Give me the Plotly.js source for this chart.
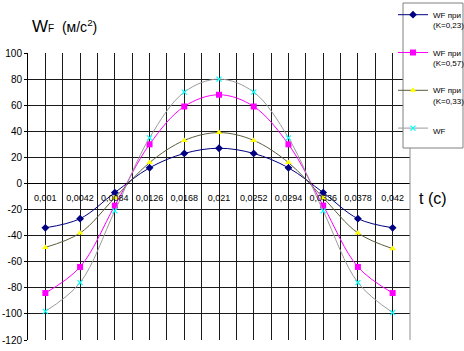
<!DOCTYPE html>
<html>
<head>
<meta charset="utf-8">
<script src="https://cdn.plot.ly/plotly-3.0.1.min.js"></script>
<style>html,body{margin:0;padding:0;background:#fff;}#chart{width:464px;height:351px;}</style>
</head>
<body>
<div id="chart"></div>
<script>
const categories = ['0,001','0,0042','0,0084','0,0126','0,0168','0,021','0,0252','0,0294','0,0336','0,0378','0,042'];
const seriesNames = ['WF при<br>(K=0,23)', 'WF при<br>(K=0,57)', 'WF при<br>(K=0,33)', 'WF'];
const wfK023 = [-34, -27, -7, 12, 23, 27, 23, 12, -7, -27, -34];
const wfK057 = [-84, -64, -17, 30, 59, 68, 59, 30, -17, -64, -84];
const wfK033 = [-49, -38, -11, 16, 33, 39, 33, 16, -11, -38, -50];
const wf     = [-98, -76, -21, 35, 70, 80, 70, 35, -21, -76, -99];
const yTicks = [-120, -100, -80, -60, -40, -20, 0, 20, 40, 60, 80, 100];

const xIdx = categories.map((c, i) => i);
const FONT = 'Liberation Sans, Arial, sans-serif';

function tr(name, y, lineColor, sym, size, mColor, mLine, grp) {
  return {
    type: 'scatter', mode: 'lines+markers', name: name, x: xIdx, y: y,
    legendgroup: grp,
    line: {color: lineColor, width: 1, shape: 'spline', smoothing: 1},
    marker: {symbol: sym, size: size, color: mColor, line: {color: mLine, width: sym.indexOf('open') >= 0 ? 1.2 : 0}},
    cliponaxis: false
  };
}

const data = [
  tr(seriesNames[0], wfK023, '#000080', 'diamond', 6, '#000080', '#000080', 'a'),
  tr(seriesNames[1], wfK057, '#FF00FF', 'square', 6, '#FF00FF', '#FF00FF', 'b'),
  tr(seriesNames[2], wfK033, '#5c5c3d', 'triangle-up', 6, '#FFFF00', '#FFFF00', 'c'),
  tr(seriesNames[3], wf, '#9a9a9a', 'x-thin-open', 5, '#00FFFF', '#00FFFF', 'd')
];

const grid = '#1a1a1a';
const layout = {
  width: 464, height: 351,
  margin: {l: 28, r: 54, t: 53, b: 11, autoexpand: false},
  paper_bgcolor: '#fff', plot_bgcolor: '#fff',
  font: {family: FONT, color: '#000'},
  showlegend: true,
  title: {
    text: '<span style="font-size:17px">W</span><span style="font-size:10px">F</span>  (м/с<sup>2</sup>)',
    x: 32/464, xanchor: 'left', xref: 'container',
    y: 1 - 27/351, yanchor: 'middle', yref: 'container',
    font: {family: FONT, size: 14, color: '#000'}
  },
  xaxis: {
    range: [-0.5, 10.5], tickmode: 'array', tickvals: xIdx, ticktext: categories,
    showgrid: true, gridcolor: grid, gridwidth: 1,
    minor: {tick0: 0.5, dtick: 1, showgrid: true, gridcolor: grid, gridwidth: 1, ticks: ''},
    anchor: 'free', position: 120/220,
    showline: true, linecolor: '#000', linewidth: 1,
    ticks: '', zeroline: false, ticklabelstandoff: 6,
    tickfont: {family: FONT, size: 9, color: '#000'},
    fixedrange: true
  },
  yaxis: {
    range: [-120, 100], tickmode: 'array', tickvals: yTicks, ticktext: yTicks.map(String),
    showgrid: true, gridcolor: grid, gridwidth: 1, zeroline: false,
    showline: true, linecolor: '#000', linewidth: 1,
    ticks: 'outside', ticklen: 3, tickcolor: '#000',
    tickfont: {family: FONT, size: 10, color: '#000'},
    fixedrange: true
  },
  legend: {
    x: (393 - 28)/382, xanchor: 'left', xref: 'paper',
    y: (340 - 3)/287, yanchor: 'top', yref: 'paper',
    bgcolor: 'rgba(0,0,0,0)', borderwidth: 0,
    font: {family: FONT, size: 8, color: '#000'},
    valign: 'top', tracegroupgap: 14, itemclick: false
  },
  shapes: [
    {type: 'line', xref: 'paper', yref: 'paper', x0: 1, x1: 1, y0: 0, y1: 1, line: {color: '#909090', width: 1}, layer: 'above'},
    {type: 'rect', xref: 'paper', yref: 'paper', x0: (403-28)/382, x1: (463-28)/382, y0: (340-148)/287, y1: (340-3)/287,
     fillcolor: '#fff', line: {color: '#808080', width: 1}, layer: 'above'}
  ],
  annotations: [
    {text: 't (с)', xref: 'paper', yref: 'y', x: (417-28)/382, y: -11.5, xanchor: 'left', yanchor: 'middle',
     showarrow: false, font: {family: FONT, size: 16, color: '#000'}}
  ]
};

Plotly.newPlot('chart', data, layout, {staticPlot: true, displayModeBar: false});
</script>
</body>
</html>
